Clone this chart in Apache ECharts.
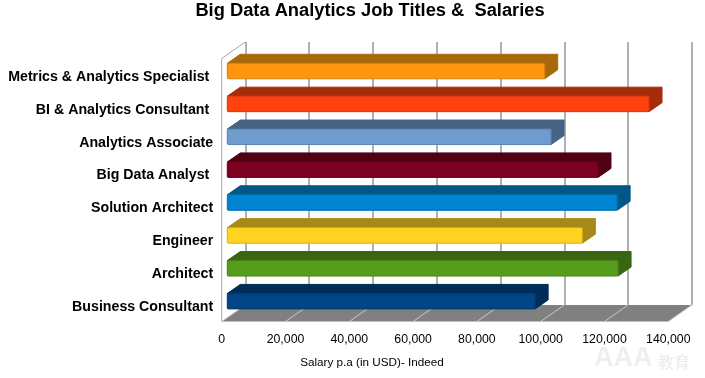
<!DOCTYPE html>
<html>
<head>
<meta charset="utf-8">
<style>
  html, body { margin: 0; padding: 0; background: #fff; }
  #chart { width: 705px; height: 378px; }
</style>
<script src="https://cdn.jsdelivr.net/npm/echarts@6/dist/echarts.min.js"></script>
</head>
<body>
<div id="chart"></div>
<script>
// bottom to top, same order as the picture reads upward
const jobTitles = [
  'Business Consultant', 'Architect', 'Engineer', 'Solution Architect',
  'Big Data Analyst ', 'Analytics Associate', 'BI & Analytics Consultant ',
  'Metrics & Analytics Specialist '
];
const salaries = [96500, 122500, 111300, 122200, 116200, 101500, 132200, 99500];
const xTicks = [0, 20000, 40000, 60000, 80000, 100000, 120000, 140000];

// front face, top face
const barFront = ['#004586', '#579d1c', '#ffd320', '#0084d1', '#7e0021', '#6f9bcd', '#ff420e', '#ff950e'];
const barTop = ['#002d57', '#396612', '#a68a15', '#005788', '#4f0015', '#466285', '#a62b09', '#a66a0a'];

// fake 3d: how far the back wall and the bars sit from the front plane
const wallDx = 23.6, wallDy = -16.5;
const barOffX = 5.6, barOffY = -3.9;
const barDx = 13, barDy = -9;
const barH = 15.5;

const myChart = echarts.init(document.getElementById('chart'));

function renderBar(params, api) {
  const i = api.value(1);
  const start = api.coord([0, i]);
  const end = api.coord([api.value(0), i]);
  const x0 = start[0] + barOffX, x1 = end[0] + barOffX;
  const y0 = start[1] + barOffY - barH / 2, y1 = y0 + barH;
  const top = barTop[i], front = barFront[i];
  const edge = { stroke: top, lineWidth: 1, lineJoin: 'round' };
  return {
    type: 'group',
    children: [
      {
        type: 'polygon',
        shape: { points: [[x0, y0], [x0 + barDx, y0 + barDy], [x1 + barDx, y0 + barDy], [x1, y0]] },
        style: Object.assign({ fill: top }, edge)
      },
      {
        type: 'polygon',
        shape: { points: [[x1, y0], [x1 + barDx, y0 + barDy], [x1 + barDx, y1 + barDy], [x1, y1]] },
        style: Object.assign({ fill: top }, edge)
      },
      {
        type: 'rect',
        shape: { x: x0, y: y0, width: x1 - x0, height: barH, r: 1 },
        style: { fill: front, stroke: echarts.color.lerp(0.5, [front, top]), lineWidth: 1 }
      }
    ]
  };
}

function renderFloor(params, api) {
  const c = params.coordSys;
  const yb = c.y + c.height, xr = c.x + c.width;
  return {
    type: 'polygon',
    shape: { points: [[c.x, yb], [c.x + wallDx, yb + wallDy], [xr + wallDx, yb + wallDy], [xr, yb]] },
    style: { fill: '#808080' }
  };
}

function renderFloorTick(params, api) {
  const c = params.coordSys;
  const yb = c.y + c.height;
  const x = api.coord([api.value(0), 0])[0];
  return {
    type: 'line',
    shape: { x1: x, y1: yb, x2: x + wallDx, y2: yb + wallDy },
    style: { stroke: '#c8c8c8', lineWidth: 1 }
  };
}

function renderSideWall(params, api) {
  const c = params.coordSys;
  const yb = c.y + c.height;
  return {
    type: 'polyline',
    shape: { points: [[c.x, yb], [c.x, c.y], [c.x + wallDx, c.y + wallDy]] },
    style: { stroke: '#a6a6a6', lineWidth: 1, fill: 'none' }
  };
}

const option = {
  animation: false,
  backgroundColor: '#fff',
  textStyle: { fontFamily: '"Liberation Sans", Arial, sans-serif' },
  title: [
    {
      text: 'Big Data Analytics Job Titles &  Salaries',
      left: 365, top: -3, textAlign: 'center',
      textStyle: { fontSize: 18.3, fontWeight: 'bold', color: '#000', fontFamily: '"Liberation Sans"' }
    },
    {
      text: 'Salary p.a (in USD)- Indeed',
      left: 367, top: 352, textAlign: 'center',
      textStyle: { fontSize: 11.7, fontWeight: 'normal', color: '#000', fontFamily: '"Liberation Sans"' }
    },
    {
      text: 'AAA',
      left: 589, top: 340,
      textStyle: { fontSize: 27, fontWeight: 'bold', color: '#efefef', fontFamily: '"Liberation Sans"' }
    },
    {
      text: '教育',
      left: 653, top: 349,
      textStyle: { fontSize: 16, fontWeight: 'normal', color: '#ebebeb', fontFamily: '"Noto Sans CJK SC"' }
    }
  ],
  grid: [
    { left: 221.7, width: 446.6, top: 58.5, height: 263 },
    { left: 245.3, width: 446.6, top: 42, height: 263 },
    // only carries the job title labels, they sit a bit lower than the bars' bands
    { left: 221.7, width: 446.6, top: 60.5, height: 263 }
  ],
  xAxis: [
    {
      type: 'value', gridIndex: 0, min: 0, max: 140000, interval: 20000,
      axisLine: { show: false }, axisTick: { show: false }, splitLine: { show: false },
      axisLabel: {
        margin: 12, color: '#000', fontSize: 12.3, fontFamily: '"Liberation Sans"',
        formatter: v => v.toLocaleString('en-US')
      }
    },
    {
      type: 'value', gridIndex: 1, min: 0, max: 140000, interval: 20000,
      axisLine: { show: false }, axisTick: { show: false }, axisLabel: { show: false },
      splitLine: { show: true, lineStyle: { color: '#b0b0b0', width: 2 } }
    },
    {
      type: 'value', gridIndex: 2, min: 0, max: 140000, interval: 20000, show: false
    }
  ],
  yAxis: [
    {
      type: 'category', gridIndex: 0, data: jobTitles, show: false
    },
    {
      type: 'category', gridIndex: 1, data: jobTitles, show: false
    },
    {
      type: 'category', gridIndex: 2, data: jobTitles,
      axisLine: { show: false }, axisTick: { show: false }, splitLine: { show: false },
      axisLabel: {
        margin: 8.5, color: '#000', fontSize: 14.2, fontWeight: 'bold', fontFamily: '"Liberation Sans"',
        interval: 0
      }
    }
  ],
  series: [
    {
      type: 'custom', xAxisIndex: 0, yAxisIndex: 0, z: 3,
      data: [[0, 0]], renderItem: renderFloor, silent: true, clip: false
    },
    {
      type: 'custom', xAxisIndex: 0, yAxisIndex: 0, z: 4,
      data: xTicks.map(t => [t, 0]), renderItem: renderFloorTick, silent: true, clip: false
    },
    {
      type: 'custom', xAxisIndex: 0, yAxisIndex: 0, z: 4,
      data: [[0, 0]], renderItem: renderSideWall, silent: true, clip: false
    },
    {
      type: 'custom', xAxisIndex: 0, yAxisIndex: 0, z: 5,
      data: salaries.map((v, i) => [v, i]),
      encode: { x: 0, y: 1 },
      renderItem: renderBar, clip: false
    }
  ]
};
option && myChart.setOption(option);
</script>
</body>
</html>
